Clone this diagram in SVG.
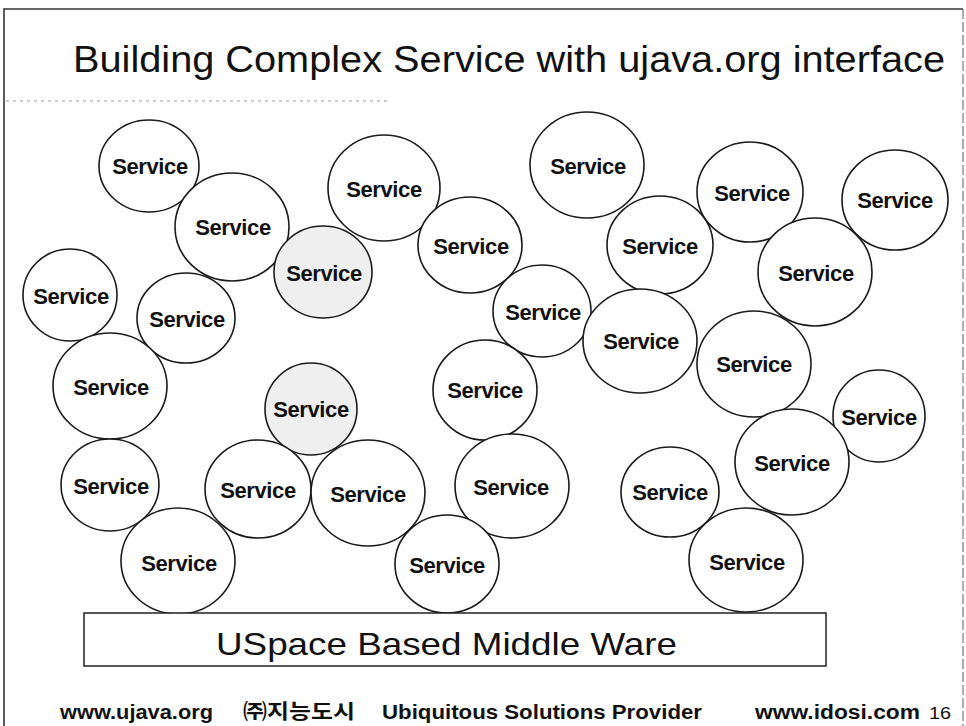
<svg xmlns="http://www.w3.org/2000/svg" width="966" height="726" viewBox="0 0 966 726">
<style>
.node ellipse{fill:#ffffff;stroke:#1a1a1a;stroke-width:1.6}
.node.shade ellipse{fill:#efefef}
.node text{font-family:"Liberation Sans",Arial,sans-serif;font-size:22px;font-weight:bold;fill:#111;text-anchor:middle;letter-spacing:-0.4px}
.title{font-family:"Liberation Sans",Arial,sans-serif;font-size:36px;fill:#111}
.mw{font-family:"Liberation Sans",Arial,sans-serif;font-size:32px;fill:#111}
.foot{font-family:"Liberation Sans",Arial,sans-serif;font-size:20px;font-weight:bold;fill:#111}
.kr{font-family:"Liberation Sans","Noto Sans CJK KR",sans-serif;font-size:20px;font-weight:bold;fill:#111}
.frame{fill:none;stroke:#333;stroke-width:1.6}
</style>
<rect width="966" height="726" fill="#ffffff"/>
<g id="frame">
<polyline class="frame" points="4,726 4,9 963,9"/>
<line x1="963" y1="9" x2="963" y2="726" stroke="#777" stroke-width="1.2" stroke-dasharray="10 3"/>
<line x1="6" y1="101" x2="390" y2="101" stroke="#999" stroke-width="1" stroke-dasharray="3 4"/>
</g>
<text id="title" class="title" x="73" y="72" textLength="872" lengthAdjust="spacingAndGlyphs">Building Complex Service with ujava.org interface</text>
<g id="connectors"></g>
<g id="n1" class="node"><ellipse cx="149" cy="166" rx="50" ry="46"/><text x="150" y="174">Service</text></g>
<g id="n2" class="node"><ellipse cx="232" cy="227" rx="57" ry="54"/><text x="233" y="235">Service</text></g>
<g id="n3" class="node shade"><ellipse cx="323" cy="272" rx="49" ry="46"/><text x="324" y="281">Service</text></g>
<g id="n4" class="node"><ellipse cx="384" cy="188" rx="56" ry="53"/><text x="384" y="197">Service</text></g>
<g id="n5" class="node"><ellipse cx="70" cy="295" rx="47" ry="46"/><text x="71" y="304">Service</text></g>
<g id="n6" class="node"><ellipse cx="186" cy="318" rx="49" ry="45"/><text x="187" y="327">Service</text></g>
<g id="n7" class="node"><ellipse cx="110" cy="386" rx="57" ry="53"/><text x="111" y="395">Service</text></g>
<g id="n8" class="node shade"><ellipse cx="311" cy="409" rx="46" ry="46"/><text x="311" y="417">Service</text></g>
<g id="n9" class="node"><ellipse cx="470" cy="245" rx="52" ry="48"/><text x="471" y="254">Service</text></g>
<g id="n10" class="node"><ellipse cx="587" cy="165" rx="57" ry="53"/><text x="588" y="174">Service</text></g>
<g id="n11" class="node"><ellipse cx="660" cy="245" rx="53" ry="49"/><text x="660" y="254">Service</text></g>
<g id="n12" class="node"><ellipse cx="750" cy="192" rx="53" ry="50"/><text x="752" y="201">Service</text></g>
<g id="n13" class="node"><ellipse cx="895" cy="200" rx="53" ry="50"/><text x="895" y="208">Service</text></g>
<g id="n14" class="node"><ellipse cx="815" cy="272" rx="57" ry="54"/><text x="816" y="281">Service</text></g>
<g id="n15" class="node"><ellipse cx="542" cy="311" rx="49" ry="46"/><text x="543" y="320">Service</text></g>
<g id="n16" class="node"><ellipse cx="640" cy="341" rx="57" ry="52"/><text x="641" y="349">Service</text></g>
<g id="n17" class="node"><ellipse cx="754" cy="364" rx="57" ry="53"/><text x="754" y="372">Service</text></g>
<g id="n18" class="node"><ellipse cx="485" cy="390" rx="52" ry="50"/><text x="485" y="398">Service</text></g>
<g id="n19" class="node"><ellipse cx="879" cy="416" rx="46" ry="46"/><text x="879" y="425">Service</text></g>
<g id="n20" class="node"><ellipse cx="792" cy="462" rx="57" ry="53"/><text x="792" y="471">Service</text></g>
<g id="n21" class="node"><ellipse cx="670" cy="492" rx="49" ry="45"/><text x="670" y="500">Service</text></g>
<g id="n22" class="node"><ellipse cx="746" cy="560" rx="57" ry="52"/><text x="747" y="570">Service</text></g>
<g id="n23" class="node"><ellipse cx="512" cy="486" rx="57" ry="52"/><text x="511" y="495">Service</text></g>
<g id="n24" class="node"><ellipse cx="447" cy="564" rx="52" ry="49"/><text x="447" y="573">Service</text></g>
<g id="n25" class="node"><ellipse cx="110" cy="485" rx="49" ry="46"/><text x="111" y="494">Service</text></g>
<g id="n26" class="node"><ellipse cx="178" cy="561" rx="57" ry="53"/><text x="179" y="571">Service</text></g>
<g id="n27" class="node"><ellipse cx="258" cy="489" rx="53" ry="49"/><text x="258" y="498">Service</text></g>
<g id="n28" class="node"><ellipse cx="368" cy="493" rx="57" ry="53"/><text x="368" y="502">Service</text></g>
<g id="middleware">
<rect x="84" y="613" width="742" height="53" fill="#ffffff" stroke="#222" stroke-width="1.5"/>
<text class="mw" x="216" y="655" textLength="461" lengthAdjust="spacingAndGlyphs">USpace Based Middle Ware</text>
</g>
<g id="footer">
<text class="foot" x="60" y="719" textLength="153" lengthAdjust="spacingAndGlyphs">www.ujava.org</text>
<text class="kr" x="243" y="719" textLength="112" lengthAdjust="spacingAndGlyphs">㈜지능도시</text>
<text class="foot" x="382" y="719" textLength="320" lengthAdjust="spacingAndGlyphs">Ubiquitous Solutions Provider</text>
<text class="foot" x="755" y="719" textLength="165" lengthAdjust="spacingAndGlyphs">www.idosi.com</text>
<text x="929" y="719" font-family="Liberation Sans, Arial, sans-serif" font-size="16" fill="#111" textLength="22" lengthAdjust="spacingAndGlyphs">16</text>
</g>
</svg>
